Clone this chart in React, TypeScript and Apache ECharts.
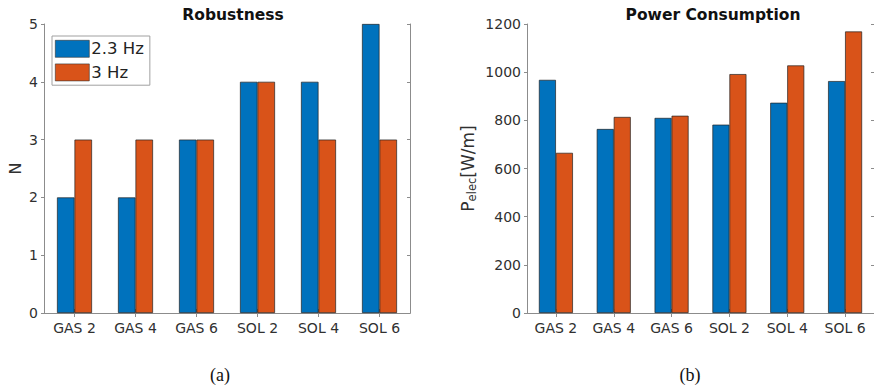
import React, { useEffect, useRef } from "react";
import * as echarts from "echarts";

const categories = ["GAS 2", "GAS 4", "GAS 6", "SOL 2", "SOL 4", "SOL 6"];
const seriesNames = ["2.3 Hz", "3 Hz"];
const robustness23 = [2, 2, 3, 4, 4, 5];
const robustness3 = [3, 3, 3, 4, 3, 3];
const power23 = [968, 764, 810, 782, 873, 963];
const power3 = [665, 814, 819, 992, 1028, 1169];

const BLUE = "#0072BD";
const ORANGE = "#D95319";
const AXIS = "#8c8c8c";
const LABEL = "#303030";
const FONT = "DejaVu Sans";

export default function App() {
  const ref = useRef<HTMLDivElement>(null);
  useEffect(() => {
    if (!ref.current) return;
    const chart = echarts.init(ref.current, undefined, { renderer: "svg" });
    const axisLine = { show: true, lineStyle: { color: AXIS, width: 1 } };
    const labelStyle = { color: LABEL, fontFamily: FONT, fontSize: 14 };
    const catAxis = (grid: number, top: boolean) => ({
      type: "category",
      gridIndex: grid,
      data: categories,
      position: top ? "top" : "bottom",
      axisLine,
      axisTick: { show: true, inside: true, alignWithLabel: true, length: 4, lineStyle: { color: AXIS } },
      axisLabel: top ? { show: false } : { ...labelStyle, margin: 8 },
      splitLine: { show: false },
    });
    const valAxis = (grid: number, right: boolean, max: number, interval: number, name?: any) => ({
      type: "value",
      gridIndex: grid,
      position: right ? "right" : "left",
      min: 0,
      max,
      interval,
      axisLine,
      axisTick: { show: true, inside: right, length: 3, lineStyle: { color: AXIS } },
      axisLabel: right ? { show: false } : { ...labelStyle, margin: 6, formatter: (v: number) => String(v) },
      splitLine: { show: false },
      ...(name || {}),
    });
    const barStyle = (color: string) => ({ color, borderColor: "#222", borderWidth: 0.7 });
    chart.setOption({
      animation: false,
      title: [
        {
          text: "Robustness",
          left: 228,
          top: 2,
          textAlign: "center",
          textStyle: { fontFamily: FONT, fontWeight: "bold", fontSize: 15.5, color: "#111" },
        },
        {
          text: "Power Consumption",
          left: 708,
          top: 2,
          textAlign: "center",
          textStyle: { fontFamily: FONT, fontWeight: "bold", fontSize: 15.5, color: "#111" },
        },
      ],
      legend: {
        data: seriesNames,
        orient: "vertical",
        left: 52,
        top: 36,
        padding: [4, 6, 4, 3],
        itemGap: 6,
        itemWidth: 34,
        itemHeight: 17,
        icon: "rect",
        backgroundColor: "#fff",
        borderColor: "#a0a0a0",
        borderWidth: 1,
        itemStyle: { borderColor: "#333", borderWidth: 0.6 },
        textStyle: { fontFamily: FONT, fontSize: 16.5, color: "#222", padding: [0, 0, 0, -3] },
      },
      grid: [
        { left: 44, top: 24, width: 366, height: 289 },
        { left: 527, top: 24, width: 349, height: 289 },
      ],
      xAxis: [catAxis(0, false), catAxis(0, true), catAxis(1, false), catAxis(1, true)],
      yAxis: [
        valAxis(0, false, 5, 1, {
          name: "N",
          nameLocation: "middle",
          nameGap: 21,
          nameTextStyle: { fontFamily: FONT, fontSize: 16, color: LABEL },
        }),
        valAxis(0, true, 5, 1),
        valAxis(1, false, 1200, 200, {
          name: "{p|P}{s|elec}{p|[W/m]}",
          nameLocation: "middle",
          nameGap: 49,
          nameTextStyle: {
            rich: {
              p: { fontFamily: FONT, fontSize: 17, color: LABEL },
              s: { fontFamily: FONT, fontSize: 11.5, color: LABEL, verticalAlign: "bottom", padding: [9, 0, 0, 0] },
            },
          },
        }),
        valAxis(1, true, 1200, 200),
      ],
      series: [
        { name: seriesNames[0], type: "bar", xAxisIndex: 0, yAxisIndex: 0, data: robustness23, barWidth: 17.5, barGap: "0%", itemStyle: barStyle(BLUE) },
        { name: seriesNames[1], type: "bar", xAxisIndex: 0, yAxisIndex: 0, data: robustness3, barWidth: 17.5, barGap: "0%", itemStyle: barStyle(ORANGE) },
        { name: seriesNames[0], type: "bar", xAxisIndex: 2, yAxisIndex: 2, data: power23, barWidth: 17, barGap: "0%", itemStyle: barStyle(BLUE) },
        { name: seriesNames[1], type: "bar", xAxisIndex: 2, yAxisIndex: 2, data: power3, barWidth: 17, barGap: "0%", itemStyle: barStyle(ORANGE) },
      ],
      graphic: [
        { type: "text", x: 220, y: 375, style: { text: "(a)", fontFamily: "Liberation Serif", fontSize: 18, fill: "#111", textAlign: "center", textVerticalAlign: "middle" } },
        { type: "text", x: 690, y: 375, style: { text: "(b)", fontFamily: "Liberation Serif", fontSize: 18, fill: "#111", textAlign: "center", textVerticalAlign: "middle" } },
      ],
    });
    return () => chart.dispose();
  }, []);
  return <div ref={ref} style={{ position: "fixed", left: 0, top: 0, width: 874, height: 390, background: "#fff" }} />;
}
